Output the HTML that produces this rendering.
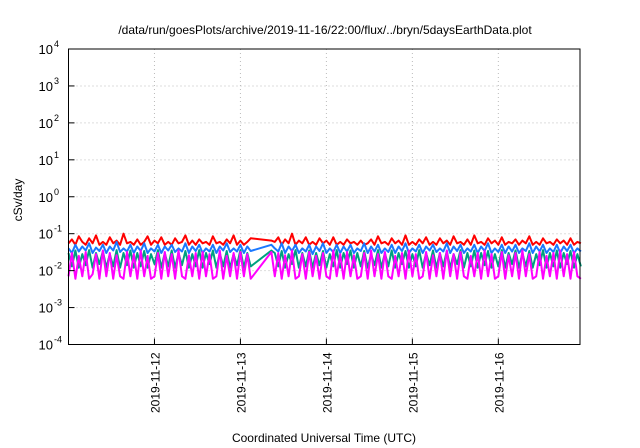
<!DOCTYPE html>
<html><head><meta charset="utf-8"><style>
body{margin:0;background:#fff;}
svg{display:block;font-family:"Liberation Sans",sans-serif;}
</style></head><body>
<svg width="640" height="448" viewBox="0 0 640 448">
<rect width="640" height="448" fill="#fff"/>
<text x="325" y="34" text-anchor="middle" font-size="12">/data/run/goesPlots/archive/2019-11-16/22:00/flux/../bryn/5daysEarthData.plot</text>
<text x="324" y="442" text-anchor="middle" font-size="12">Coordinated Universal Time (UTC)</text>
<text transform="translate(22,200) rotate(-90)" text-anchor="middle" font-size="12">cSv/day</text>
<g id="grid"></g>
<g id="series"></g>
<g id="axes"></g>
</svg>
<script>
const xTickLabels = ["2019-11-12","2019-11-13","2019-11-14","2019-11-15","2019-11-16"];
const xTickDays = [1,2,3,4,5];
const yTickExps = [-4,-3,-2,-1,0,1,2,3,4];
const dayStep = 0.04;
const redVals = [
0.055,0.07,0.05,0.085,0.06,0.05,0.075,0.055,0.09,0.05,
0.06,0.05,0.08,0.055,0.065,0.05,0.1,0.055,0.06,0.05,
0.07,0.05,0.06,0.085,0.05,0.065,0.055,0.08,0.05,0.06,
0.05,0.075,0.055,0.06,0.09,0.05,0.065,0.05,0.07,0.055,
0.06,0.05,0.085,0.055,0.06,0.05,0.07,0.055,0.09,0.05,
0.065,0.05,0.06,0.075,null,null,null,null,null,0.065,
0.06,0.08,0.05,0.07,0.055,0.1,0.05,0.065,0.055,0.08,
0.05,0.06,0.05,0.075,0.055,0.065,0.05,0.08,0.05,0.06,
0.05,0.07,0.055,0.06,0.05,0.065,0.05,0.055,0.07,0.05,
0.085,0.055,0.06,0.05,0.075,0.055,0.065,0.05,0.09,0.05,
0.06,0.05,0.07,0.055,0.08,0.05,0.06,0.05,0.075,0.055,
0.065,0.05,0.085,0.055,0.06,0.05,0.07,0.05,0.09,0.055,
0.06,0.05,0.075,0.055,0.065,0.05,0.08,0.05,0.06,0.055,
0.07,0.05,0.065,0.055,0.085,0.05,0.06,0.05,0.075,0.055,
0.06,0.05,0.07,0.055,0.065,0.05,0.075,0.05,0.06,0.055];
const greenVals = [
0.03,0.013,0.035,0.012,0.028,0.014,0.036,0.012,0.03,0.015,
0.034,0.012,0.028,0.013,0.036,0.012,0.03,0.014,0.035,0.012,
0.03,0.013,0.034,0.012,0.028,0.015,0.036,0.012,0.03,0.013,
0.035,0.012,0.03,0.014,0.034,0.012,0.028,0.013,0.036,0.012,
0.03,0.015,0.035,0.012,0.03,0.013,0.034,0.012,0.028,0.014,
0.036,0.012,0.03,0.013,null,null,null,null,null,0.035,
0.03,0.013,0.034,0.012,0.028,0.015,0.036,0.012,0.03,0.013,
0.035,0.012,0.03,0.014,0.034,0.012,0.028,0.013,0.036,0.012,
0.03,0.015,0.035,0.012,0.03,0.013,0.034,0.012,0.028,0.014,
0.036,0.012,0.03,0.013,0.035,0.012,0.03,0.015,0.034,0.012,
0.028,0.013,0.036,0.012,0.03,0.014,0.035,0.012,0.03,0.013,
0.034,0.012,0.028,0.015,0.036,0.012,0.03,0.013,0.035,0.012,
0.03,0.014,0.034,0.012,0.028,0.013,0.036,0.012,0.03,0.015,
0.035,0.012,0.03,0.013,0.034,0.012,0.028,0.014,0.036,0.012,
0.03,0.013,0.035,0.012,0.03,0.015,0.034,0.012,0.028,0.013];
const blueVals = [
0.04,0.03,0.05,0.033,0.045,0.035,0.055,0.03,0.042,0.034,
0.05,0.03,0.045,0.035,0.06,0.032,0.04,0.033,0.05,0.03,
0.045,0.034,0.055,0.03,0.04,0.033,0.05,0.03,0.045,0.035,
0.05,0.032,0.04,0.033,0.055,0.03,0.045,0.034,0.05,0.03,
0.04,0.033,0.05,0.03,0.045,0.035,0.055,0.032,0.04,0.033,
0.05,0.03,0.045,0.034,null,null,null,null,null,0.05,
0.04,0.033,0.055,0.03,0.045,0.034,0.05,0.03,0.04,0.033,
0.05,0.028,0.045,0.034,0.055,0.03,0.04,0.032,0.05,0.03,
0.045,0.033,0.05,0.03,0.04,0.034,0.055,0.03,0.045,0.033,
0.05,0.03,0.04,0.032,0.05,0.03,0.045,0.034,0.055,0.03,
0.04,0.033,0.05,0.03,0.045,0.035,0.05,0.032,0.04,0.033,
0.055,0.03,0.045,0.034,0.05,0.03,0.04,0.033,0.05,0.03,
0.045,0.034,0.055,0.03,0.04,0.032,0.05,0.03,0.045,0.033,
0.05,0.03,0.04,0.034,0.055,0.03,0.045,0.033,0.05,0.03,
0.04,0.032,0.05,0.03,0.045,0.034,0.05,0.03,0.04,0.033];
const magentaVals = [
0.007,0.03,0.006,0.025,0.007,0.032,0.006,0.008,0.028,0.006,
0.035,0.007,0.03,0.006,0.026,0.007,0.006,0.032,0.007,0.028,
0.006,0.035,0.007,0.025,0.006,0.007,0.03,0.006,0.032,0.007,
0.028,0.006,0.035,0.007,0.006,0.026,0.007,0.03,0.006,0.032,
0.007,0.028,0.006,0.007,0.035,0.006,0.025,0.007,0.03,0.006,
0.032,0.007,0.028,0.006,null,null,null,null,null,0.032,
0.007,0.03,0.006,0.026,0.007,0.035,0.006,0.007,0.028,0.006,
0.032,0.007,0.025,0.006,0.03,0.007,0.006,0.035,0.007,0.028,
0.006,0.032,0.007,0.026,0.006,0.007,0.03,0.006,0.035,0.007,
0.028,0.006,0.032,0.007,0.006,0.025,0.007,0.03,0.006,0.035,
0.007,0.028,0.006,0.007,0.032,0.006,0.026,0.007,0.03,0.006,
0.035,0.007,0.028,0.006,0.032,0.007,0.006,0.025,0.007,0.03,
0.006,0.035,0.007,0.028,0.006,0.007,0.032,0.006,0.026,0.007,
0.03,0.006,0.035,0.007,0.028,0.006,0.007,0.032,0.006,0.025,
0.007,0.03,0.006,0.035,0.007,0.028,0.006,0.032,0.007,0.006];
const L=68.5,R=580,T=49,B=344.5,DAYS=5.95;
const xS=d=>L+(d/DAYS)*(R-L);
const yS=v=>B-(Math.log10(v)+4)/8*(B-T);
const NS="http://www.w3.org/2000/svg";
const grid=document.getElementById('grid'),axes=document.getElementById('axes'),series=document.getElementById('series');
function mk(tag,attrs,parent){const e=document.createElementNS(NS,tag);for(const k in attrs)e.setAttribute(k,attrs[k]);parent.appendChild(e);return e;}
yTickExps.forEach(e=>{const y=yS(Math.pow(10,e));
 if(e>-4&&e<4){const g=mk('line',{x1:L,x2:R,y1:y,y2:y,stroke:'#bbb','stroke-dasharray':'1,3','stroke-width':1},grid);
 
 }
 const tk=mk('line',{x1:L,x2:L+6,y1:y,y2:y,stroke:'#000'},axes);
 
 
 const t=mk('text',{x:53,y:y+5,'text-anchor':'end','font-size':'13'},axes);
 
 
 t.textContent='10';
 const s=mk('text',{x:54,y:y-2,'text-anchor':'start','font-size':'9'},axes);
 
 
 s.textContent=String(e);
});
xTickDays.forEach((d,i)=>{const x=xS(d);
 const g=mk('line',{x1:x,x2:x,y1:T,y2:B,stroke:'#bbb','stroke-dasharray':'1,3'},grid);
 
 
 const tk=mk('line',{x1:x,x2:x,y1:B,y2:B-6,stroke:'#000'},axes);
 
 
 const t=mk('text',{transform:`translate(${x+5},${B+8}) rotate(-90)`,'text-anchor':'end','font-size':'12'},axes);
 
 
 t.textContent=xTickLabels[i];
});
const fr=mk('rect',{x:L,y:T,width:R-L,height:B-T,fill:'none',stroke:'#000','stroke-width':1},axes);


[[redVals,'#ff0000','series-red'],[greenVals,'#00a080','series-green'],[blueVals,'#1a78ff','series-blue'],[magentaVals,'#ff00ff','series-magenta']].forEach(([vals,c,n])=>{
 const pts=[];vals.forEach((v,i)=>{if(v!=null)pts.push(xS(i*dayStep).toFixed(1)+','+yS(v).toFixed(1));});
 const p=mk('polyline',{points:pts.join(' '),fill:'none',stroke:c,'stroke-width':2,'stroke-linejoin':'round'},series);
 
 
});
</script>
</body></html>
